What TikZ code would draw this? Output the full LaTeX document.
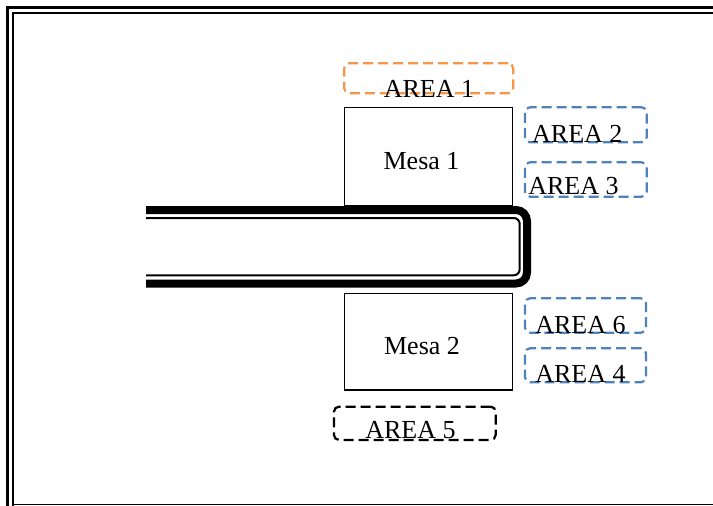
\documentclass[tikz,border=0pt]{standalone}
\usepackage{fontspec}
\setmainfont{Liberation Serif}
\definecolor{areaorange}{HTML}{F79646}
\definecolor{areablue}{HTML}{4F81BD}
\begin{document}
\begin{tikzpicture}[x=1pt,y=-1pt,
  mesa/.style={draw=black,line width=1.4pt,fill=white,rectangle,inner sep=0pt},
  zone/.style={rectangle,rounded corners=5pt,line width=2.2pt,dash pattern=on 10pt off 5pt,inner sep=0pt},
  lbl/.style={font=\fontsize{26}{28}\selectfont,inner sep=0pt,anchor=base,text=black}]
\useasboundingbox (0,0) rectangle (713,506);
\fill[white] (0,0) rectangle (713,506);

% page frame: thick outer rule, thin inner rule
\draw[line width=3pt] (7.5,506) -- (7.5,7.5) -- (713,7.5);
\draw[line width=2pt] (13,506) -- (13,13) -- (713,13);
\draw[line width=1.5pt] (13,504.7) -- (713,504.7);

% corridor: thick-thin double outline, open on the left
\draw[line width=8pt,rounded corners=11pt] (146,210) -- (527,210) -- (527,283.5) -- (146,283.5);
\draw[line width=2pt,rounded corners=6pt] (146,218) -- (519.7,218) -- (519.7,275.3) -- (146,275.3);

% tables
\node[mesa,minimum width=168pt,minimum height=98.7pt] (mesa1) at (428.7,156.7) {};
\node[mesa,minimum width=168.4pt,minimum height=96.7pt] (mesa2) at (428.5,341.7) {};
\node[lbl] (mesa1txt) at (421.5,169.3) {Mesa 1};
\node[lbl] (mesa2txt) at (422,354) {Mesa 2};

% dashed work areas
\node[zone,draw=areaorange,minimum width=169pt,minimum height=30pt] (a1) at (428.7,78.3) {};
\node[zone,draw=areablue,minimum width=121.7pt,minimum height=35pt] (a2) at (585.8,124.8) {};
\node[zone,draw=areablue,minimum width=121.7pt,minimum height=34.4pt] (a3) at (585.8,179.5) {};
\node[zone,draw=areablue,minimum width=121pt,minimum height=34.4pt] (a6) at (585.5,315.5) {};
\node[zone,draw=areablue,minimum width=121pt,minimum height=34pt] (a4) at (585.5,365.3) {};
\node[zone,draw=black,minimum width=161.7pt,minimum height=33.3pt] (a5) at (414.8,423.3) {};

% area captions
\node[lbl] (a1txt) at (429,97.7) {AREA 1};
\node[lbl] (a2txt) at (577.3,142.3) {AREA 2};
\node[lbl] (a3txt) at (573.5,194.3) {AREA 3};
\node[lbl] (a6txt) at (580.5,333.3) {AREA 6};
\node[lbl] (a4txt) at (580.5,382.3) {AREA 4};
\node[lbl] (a5txt) at (410.5,438.3) {AREA 5};
\end{tikzpicture}
\end{document}
